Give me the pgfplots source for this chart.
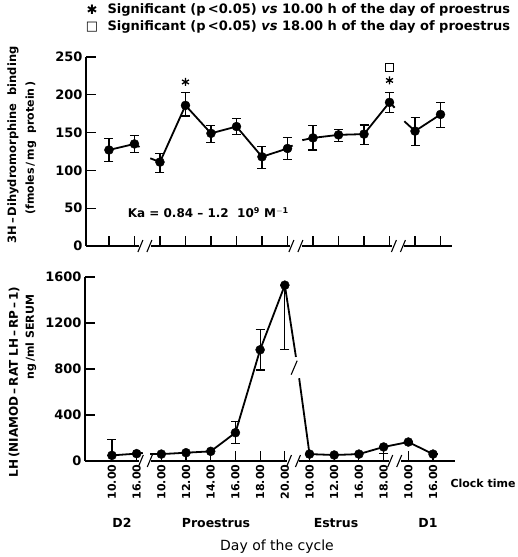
\documentclass[border=0pt]{standalone}
\usepackage{fontspec}
\setmainfont{DejaVu Sans}
\usepackage{pgfplots}
\pgfplotsset{compat=1.18}
\usepackage{pgfplotstable}
\newcommand\fs[1]{\fontsize{#1}{#1}\selectfont}
% break mark on an x axis
\newcommand\brk[1]{%
  \fill[white] ([xshift=-6pt,yshift=-3pt]axis cs:#1,0) rectangle ([xshift=6pt,yshift=3pt]axis cs:#1,0);
  \draw[line width=1.1pt] ([xshift=-7pt,yshift=-6pt]axis cs:#1,0) -- ([xshift=-2pt,yshift=6pt]axis cs:#1,0);
  \draw[line width=1.1pt] ([xshift=2pt,yshift=-6pt]axis cs:#1,0) -- ([xshift=7pt,yshift=6pt]axis cs:#1,0);}

% 3H-dihydromorphine binding (fmoles/mg protein)
\pgfplotstableread{
x  y   ep em
0  127 15 15
1  135 11 11
2  111 11 14
3  186 17 14
4  149 10 12
5  158 11 10
6  118 14 16
7  129 14 15
8  143 16 16
9  147 7  9
10 148 12 14
11 190 13 13
12 152 18 19
13 174 16 17
}\binding
% LH ng/ml serum
\pgfplotstableread{
x  y    ep  em
0  49   140 0
1  64   0   0
2  60   0   0
3  72   0   0
4  84   0   0
5  246  95  92
6  967  175 175
7  1529 0   560
8  60   0   0
9  52   0   0
10 60   0   0
11 122  0   60
12 165  0   0
13 60   0   0
}\lh

\pgfplotsset{
  every axis/.append style={
    scale only axis, anchor=south west, clip=false,
    axis lines=left, axis line style={-, line width=1.2pt},
    tick align=inside, major tick length=10pt,
    tick style={line width=1.1pt, black},
    tick label style={font=\bfseries\fs{13pt}},
    /pgf/number format/assume math mode=true,
    /pgf/number format/1000 sep={},
  },
  seg/.style={line width=1.8pt, black},
  dots/.style={only marks, mark=*, mark size=4.5pt, black,
    error bars/.cd, y dir=both, y explicit,
    error bar style={line width=1.2pt},
    error mark options={rotate=90, mark size=4.5pt, line width=1.2pt}},
}

\begin{document}
\begin{tikzpicture}
\path[use as bounding box] (0pt,0pt) rectangle (518pt,557pt);

% legend
\node[font=\fs{13pt}] at (92pt,547pt) {✱};
\node[font=\fs{13pt}] at (92pt,530pt) {□};
\node[anchor=west, font=\bfseries\fs{13pt}] at (104pt,547pt) {Significant (p\,<0.05) \textit{vs} 10.00 h of the day of proestrus};
\node[anchor=west, font=\bfseries\fs{13pt}] at (104pt,530pt) {Significant (p\,<0.05) \textit{vs} 18.00 h of the day of proestrus};

% top panel
\begin{axis}[
  at={(86pt,311pt)}, width=366pt, height=189pt,
  xmin=-0.9, xmax=13.45, ymin=0, ymax=250,
  xtick={0,...,13}, xticklabels={},
  ytick={0,50,...,250},
]
\addplot[seg, restrict x to domain=0:1] table[x=x,y=y] {\binding};
\addplot[seg, restrict x to domain=2:7] table[x=x,y=y] {\binding};
\addplot[seg, restrict x to domain=8:11] table[x=x,y=y] {\binding};
\addplot[seg, restrict x to domain=12:13] table[x=x,y=y] {\binding};
\addplot[seg] coordinates {(1,135) (1.2,131)};
\addplot[seg] coordinates {(1.62,116) (2,111)};
\addplot[seg] coordinates {(7,129) (7.2,133)};
\addplot[seg] coordinates {(7.58,140) (8,143)};
\addplot[seg] coordinates {(11,190) (11.2,183)};
\addplot[seg] coordinates {(11.58,165) (12,152)};
\addplot[dots] table[x=x,y=y,y error plus=ep,y error minus=em] {\binding};
\addplot[only marks, mark=asterisk, mark size=4pt, line width=1.3pt] coordinates {(3,217) (11,219)};
\addplot[only marks, mark=square, mark size=4pt, line width=1.2pt] coordinates {(11,236)};
\node[anchor=west, font=\bfseries\fs{12pt}] at (axis cs:0.6,44) {Ka = 0.84 -- 1.2\ \ 10$^{\mathbf{9}}$ M$^{\mathbf{-1}}$};
\brk{1.41}
\brk{7.33}
\brk{11.35}
\end{axis}

% bottom panel
\begin{axis}[
  at={(85pt,96pt)}, width=370pt, height=184pt,
  xmin=-1.09, xmax=13.89, ymin=0, ymax=1600,
  xtick={0,...,13},
  xticklabels={10.00,16.00,10.00,12.00,14.00,16.00,18.00,20.00,10.00,12.00,16.00,18.00,10.00,16.00},
  xticklabel style={rotate=90, anchor=east, font=\bfseries\fs{11pt}},
  ytick={0,400,...,1600},
]
\addplot[seg, restrict x to domain=0:1] table[x=x,y=y] {\lh};
\addplot[seg, restrict x to domain=2:7] table[x=x,y=y] {\lh};
\addplot[seg, restrict x to domain=8:13] table[x=x,y=y] {\lh};
\addplot[seg] coordinates {(1,64) (1.25,70)};
\addplot[seg] coordinates {(1.55,60) (2,60)};
\addplot[seg] coordinates {(7,1529) (7.45,905)};
\addplot[seg] coordinates {(7.58,720) (8,60)};
\addplot[dots] table[x=x,y=y,y error plus=ep,y error minus=em] {\lh};
\draw[line width=1.1pt] ([xshift=-6pt,yshift=-8pt]axis cs:7.5,820) -- ([xshift=0pt,yshift=6pt]axis cs:7.5,820);
\brk{1.35}
\brk{7.35}
\brk{11.45}
\end{axis}

% axis titles
\node[rotate=90, font=\bfseries\fs{11.5pt}] at (13pt,412pt) {3H\,--\,Dihydromorphine\ \ binding};
\node[rotate=90, font=\bfseries\fs{11pt}] at (31pt,409pt) {(fmoles\,/\,mg\ \ protein\,)};
\node[rotate=90, font=\bfseries\fs{12pt}] at (14pt,175pt) {LH\,(NIAMOD\,--\,RAT LH\,--\,RP\,--\,1)};
\node[rotate=90, font=\bfseries\fs{11pt}] at (31pt,220pt) {ng\,/ml SERUM};

\node[anchor=west, font=\bfseries\fs{11pt}] at (447pt,74pt) {Clock time};
\node[font=\bfseries\fs{12.5pt}] at (122pt,34pt) {D2};
\node[font=\bfseries\fs{12.5pt}] at (216pt,34pt) {Proestrus};
\node[font=\bfseries\fs{12.5pt}] at (336pt,34pt) {Estrus};
\node[font=\bfseries\fs{12.5pt}] at (428pt,34pt) {D1};
\node[font=\fs{14pt}] at (277pt,10pt) {Day of the cycle};
\end{tikzpicture}
\end{document}
